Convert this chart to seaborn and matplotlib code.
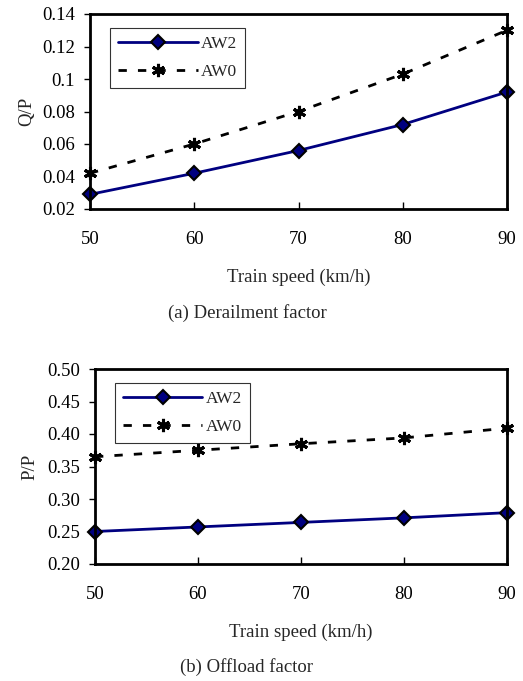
import matplotlib
matplotlib.use("Agg")
import matplotlib.pyplot as plt
import seaborn as sns
import pandas as pd

speed = [50, 60, 70, 80, 90]
qp_aw2 = [0.029, 0.042, 0.056, 0.072, 0.092]
qp_aw0 = [0.042, 0.060, 0.080, 0.103, 0.130]
pp_aw2 = [0.250, 0.257, 0.264, 0.271, 0.279]
pp_aw0 = [0.365, 0.375, 0.385, 0.394, 0.409]
series = ["AW2", "AW0"]

sns.set_theme(style="white")
plt.rcParams['font.family'] = ['Liberation Serif', 'DejaVu Serif']
plt.rcParams['font.size'] = 13.5

fig = plt.figure(figsize=(5.23, 6.81), dpi=100)
W, H = 523, 681

def make_axes(l, t, r, b):
    return fig.add_axes([l / W, 1 - b / H, (r - l) / W, (b - t) / H])

ax1 = make_axes(90, 14, 507, 209)
ax2 = make_axes(95, 369, 507, 564)

FS = 13.5

def draw(ax, aw2, aw0, ylabel, ylim, yticks, yfmt, ylabelpad):
    df = pd.DataFrame({"speed": speed * 2,
                       "val": aw2 + aw0,
                       "series": [series[0]] * 5 + [series[1]] * 5})
    sns.lineplot(data=df[df.series == "AW2"], x="speed", y="val", ax=ax,
                 color="#000080", lw=2, marker="D", markersize=7,
                 markerfacecolor="#000080", markeredgecolor="black",
                 markeredgewidth=1.5, label="AW2", clip_on=False)
    sns.lineplot(data=df[df.series == "AW0"], x="speed", y="val", ax=ax,
                 color="black", lw=2, linestyle=(0, (3, 4)), marker=(6, 2, 0),
                 markersize=9.5, markeredgecolor="black", markeredgewidth=2.2,
                 label="AW0", clip_on=False)
    ax.set_xlim(50, 90)
    ax.set_ylim(*ylim)
    ax.set_xticks(speed)
    ax.set_yticks(yticks)
    ax.set_yticklabels([yfmt(v) for v in yticks])
    ax.set_xlabel("Train speed (km/h)", fontsize=FS, labelpad=15)
    ax.set_ylabel(ylabel, fontsize=FS, labelpad=ylabelpad)
    for s in ax.spines.values():
        s.set_linewidth(2)
        s.set_color("black")
    ax.tick_params(axis="y", direction="out", length=4, width=1, left=True,
                   labelsize=FS, pad=7, colors="black")
    ax.tick_params(axis="x", direction="in", length=5, width=1, bottom=True,
                   labelsize=FS, pad=16, colors="black")
    leg = ax.legend(loc="upper left", bbox_to_anchor=(0.048, 0.93),
                    handlelength=4.6, frameon=True, fancybox=False,
                    edgecolor="black", fontsize=12.5, borderpad=0.45,
                    labelspacing=0.7, handletextpad=0.2, borderaxespad=0)
    leg.get_frame().set_linewidth(0.8)
    return ax

draw(ax1, qp_aw2, qp_aw0, "Q/P", (0.02, 0.14),
     [0.02, 0.04, 0.06, 0.08, 0.10, 0.12, 0.14],
     lambda v: "0.1" if abs(v - 0.1) < 1e-9 else f"{v:.2f}", 5)
draw(ax2, pp_aw2, pp_aw0, "P/P", (0.20, 0.50),
     [0.20, 0.25, 0.30, 0.35, 0.40, 0.45, 0.50],
     lambda v: f"{v:.2f}", 6)

fig.text(247 / W, 1 - 313 / H, "(a) Derailment factor", ha="center",
         va="center", fontsize=FS)
fig.text(247 / W, 1 - 667 / H, "(b) Offload factor", ha="center",
         va="center", fontsize=FS)

fig.savefig("out.png", dpi=100)
